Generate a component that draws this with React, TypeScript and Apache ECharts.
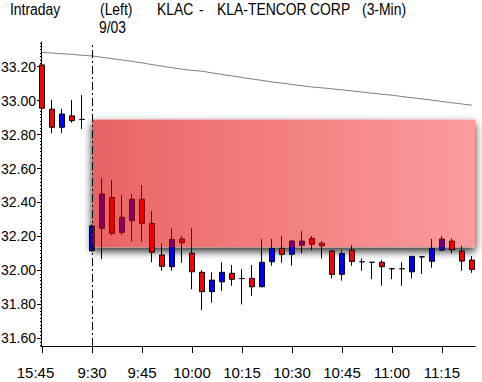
import React, { useEffect, useRef } from 'react';
import * as echarts from 'echarts';

// ---- data ----
const barIndex = [
  0, 1, 2, 3, 4, 5, 6, 7, 8, 9, 10, 11, 12, 13, 14, 15, 16, 17, 18, 19, 20, 21,
  22, 23, 24, 25, 26, 27, 28, 29, 30, 31, 32, 33, 34, 35, 36, 37, 38, 39, 40, 41, 42, 43,
];
const opens = [
  32.955, 32.843, 32.921, 32.882, 32.889, 32.262, 32.45, 32.218, 32.313, 32.419, 32.277,
  32.107, 32.024, 32.183, 32.163, 31.992, 31.875, 31.943, 31.989, 31.948, 31.952, 31.904,
  32.048, 32.13, 32.095, 32.173, 32.173, 32.154, 32.146, 31.977, 32.1, 32.053, 32.051,
  32.048, 32.022, 32.01, 32.01, 32.083, 32.08, 32.13, 32.185, 32.122, 32.055, 32.006,
];
const closes = [
  33.21, 32.949, 32.843, 32.91, 32.889, 32.116, 32.248, 32.43, 32.224, 32.293, 32.419,
  32.277, 32.091, 32.022, 32.185, 32.102, 31.989, 31.875, 31.933, 31.983, 31.952, 31.953,
  31.904, 32.051, 32.13, 32.095, 32.148, 32.189, 32.16, 32.114, 31.977, 32.12, 32.051,
  32.048, 32.048, 32.01, 32.01, 31.992, 32.08, 32.054, 32.12, 32.173, 32.114, 32.061,
];
const lows = [
  32.95, 32.808, 32.808, 32.87, 32.833, 32.11, 32.067, 32.208, 32.208, 32.169, 32.169,
  32.048, 31.998, 31.998, 32.045, 31.889, 31.767, 31.81, 31.88, 31.91, 31.8, 31.851,
  31.9, 32.028, 32.045, 32.028, 32.101, 32.12, 32.071, 31.953, 31.94, 32.028, 31.998,
  31.949, 31.91, 31.949, 31.91, 31.953, 31.979, 32.016, 32.114, 32.101, 31.998, 31.986,
];
const highs = [
  33.235, 33.004, 32.951, 33.004, 33.033, 32.27, 32.546, 32.533, 32.444, 32.45, 32.503,
  32.35, 32.16, 32.248, 32.203, 32.248, 32.002, 31.989, 32.048, 32.032, 32.008, 32.032,
  32.185, 32.185, 32.203, 32.18, 32.232, 32.203, 32.173, 32.12, 32.12, 32.15, 32.071,
  32.048, 32.061, 32.01, 32.048, 32.083, 32.08, 32.185, 32.203, 32.189, 32.144, 32.085,
];
const maValues = [
  33.284, 33.28, 33.276, 33.272, 33.267, 33.263, 33.255, 33.247, 33.239, 33.231, 33.222,
  33.212, 33.203, 33.194, 33.185, 33.178, 33.173, 33.163, 33.154, 33.145, 33.136, 33.127,
  33.119, 33.11, 33.103, 33.095, 33.087, 33.08, 33.075, 33.069, 33.063, 33.057, 33.05,
  33.044, 33.037, 33.032, 33.024, 33.017, 33.01, 33.003, 32.995, 32.987, 32.98, 32.973,
];
const timeTicks = [0, 5, 10, 15, 20, 25, 30, 35, 40];
const timeLabels = ['15:45', '9:30', '9:45', '10:00', '10:15', '10:30', '10:45', '11:00', '11:15'];
const priceTicks = [31.6, 31.8, 32.0, 32.2, 32.4, 32.6, 32.8, 33.0, 33.2];
const sessionStartBar = 5;
const zoneX = [5, 43.3];
const zoneY = [32.888, 32.137];
const xRange = [-0.1, 43.3];
const yRange = [31.555, 33.345];

const FONT = '"Liberation Sans", Arial, sans-serif';

const minorTicks: number[] = [];
for (let k = Math.ceil(yRange[0] / 0.02); k * 0.02 <= yRange[1] + 1e-9; k++) {
  minorTicks.push(Math.round(k * 0.02 * 100) / 100);
}

export default function App() {
  const ref = useRef<HTMLDivElement>(null);
  useEffect(() => {
    document.body.style.margin = '0';
    document.body.style.overflow = 'hidden';
    const chart = echarts.init(ref.current!, null, { renderer: 'svg' });

    const candleData = barIndex.map((x, i) => [x, opens[i], closes[i], lows[i], highs[i]]);
    const maData = barIndex.map((x, i) => [x, maValues[i]]);
    const zoneData = [[zoneX[0], zoneY[0], zoneX[1], zoneY[1]]];

    const zoneRect = (api: any, withShadow: boolean) => {
      const p1 = api.coord([api.value(0), api.value(1)]);
      const p2 = api.coord([api.value(2), api.value(3)]);
      const shape = { x: p1[0], y: p1[1], width: p2[0] - p1[0], height: p2[1] - p1[1] };
      if (withShadow) {
        return {
          type: 'rect',
          shape,
          style: {
            fill: '#ffffff',
            shadowBlur: 8,
            shadowOffsetY: 4,
            shadowOffsetX: 0,
            shadowColor: 'rgba(0,0,0,0.85)',
          },
        };
      }
      return {
        type: 'rect',
        shape,
        style: {
          fill: new echarts.graphic.LinearGradient(0, 0, 1, 0, [
            { offset: 0, color: 'rgba(217,0,0,0.61)' },
            { offset: 1, color: 'rgba(245,0,0,0.39)' },
          ]),
        },
      };
    };

    const textEl = (text: string, x: number, y: number) => ({
      type: 'text',
      x,
      y,
      scaleX: 0.87,
      style: {
        text,
        fill: '#000',
        font: '16px ' + FONT,
        verticalAlign: 'middle',
        align: 'left',
      },
    });

    chart.setOption({
      animation: false,
      backgroundColor: '#ffffff',
      grid: {
        left: 41,
        right: 7,
        top: 42,
        bottom: 36,
        containLabel: false,
        outerBoundsMode: 'none',
      },
      graphic: [
        textEl('Intraday', 10, 9.5),
        textEl('(Left)', 100, 9.5),
        textEl('KLAC', 157, 9.5),
        textEl('-', 199, 9.5),
        textEl('KLA-TENCOR', 217, 9.5),
        textEl('CORP', 310, 9.5),
        textEl('(3-Min)', 362, 9.5),
        textEl('9/03', 99, 27),
      ],
      xAxis: {
        type: 'value',
        min: xRange[0],
        max: xRange[1],
        splitLine: { show: false },
        axisLine: { show: true, onZero: false, lineStyle: { color: '#000', width: 1 } },
        axisTick: { show: true, length: 7, customValues: timeTicks, lineStyle: { color: '#000' } },
        axisLabel: {
          customValues: timeTicks,
          color: '#000',
          fontFamily: FONT,
          fontSize: 15,
          margin: 19,
          formatter: (v: number) => {
            const idx = timeTicks.indexOf(Math.round(v));
            if (idx < 0) return '';
            return idx === 0 ? '{first|' + timeLabels[idx] + '}' : timeLabels[idx];
          },
          rich: {
            first: { fontFamily: FONT, fontSize: 15, color: '#000', padding: [0, 13, 0, 0] },
          },
        },
      },
      yAxis: [
        {
          type: 'value',
          min: yRange[0],
          max: yRange[1],
          position: 'left',
          splitLine: { show: false },
          axisLine: { show: true, onZero: false, lineStyle: { color: '#000', width: 1 } },
          axisTick: { show: true, length: 4, customValues: priceTicks, lineStyle: { color: '#000' } },
          axisLabel: {
            customValues: priceTicks,
            color: '#000',
            fontFamily: FONT,
            fontSize: 14,
            margin: 5,
            formatter: (v: number) => v.toFixed(2),
          },
        },
        {
          type: 'value',
          min: yRange[0],
          max: yRange[1],
          position: 'left',
          offset: 0,
          splitLine: { show: false },
          axisLine: { show: false },
          axisTick: { show: true, length: 2, customValues: minorTicks, lineStyle: { color: '#000' } },
          axisLabel: { show: false },
        },
      ],
      series: [
        {
          type: 'custom',
          z: 1,
          silent: true,
          data: zoneData,
          encode: { x: [0, 2], y: [1, 3] },
          renderItem: (_p: any, api: any) => zoneRect(api, true),
        },
        {
          type: 'line',
          z: 2,
          data: maData,
          showSymbol: false,
          symbol: 'none',
          silent: true,
          lineStyle: { color: '#808080', width: 1 },
        },
        {
          type: 'candlestick',
          z: 2,
          data: candleData,
          barWidth: 5,
          clip: true,
          itemStyle: {
            color: '#ff0000',
            color0: '#0000ff',
            borderColor: '#000000',
            borderColor0: '#000000',
            borderColorDoji: '#000000',
            borderWidth: 1,
          },
          markLine: {
            silent: true,
            symbol: ['none', 'none'],
            label: { show: false },
            lineStyle: { color: '#000', width: 1, type: [8, 3, 2, 3] },
            data: [{ xAxis: sessionStartBar }],
          },
        },
        {
          type: 'custom',
          z: 4,
          silent: true,
          data: zoneData,
          encode: { x: [0, 2], y: [1, 3] },
          renderItem: (_p: any, api: any) => zoneRect(api, false),
        },
      ],
    });
    return () => chart.dispose();
  }, []);
  return <div ref={ref} style={{ width: 482, height: 382 }} />;
}
